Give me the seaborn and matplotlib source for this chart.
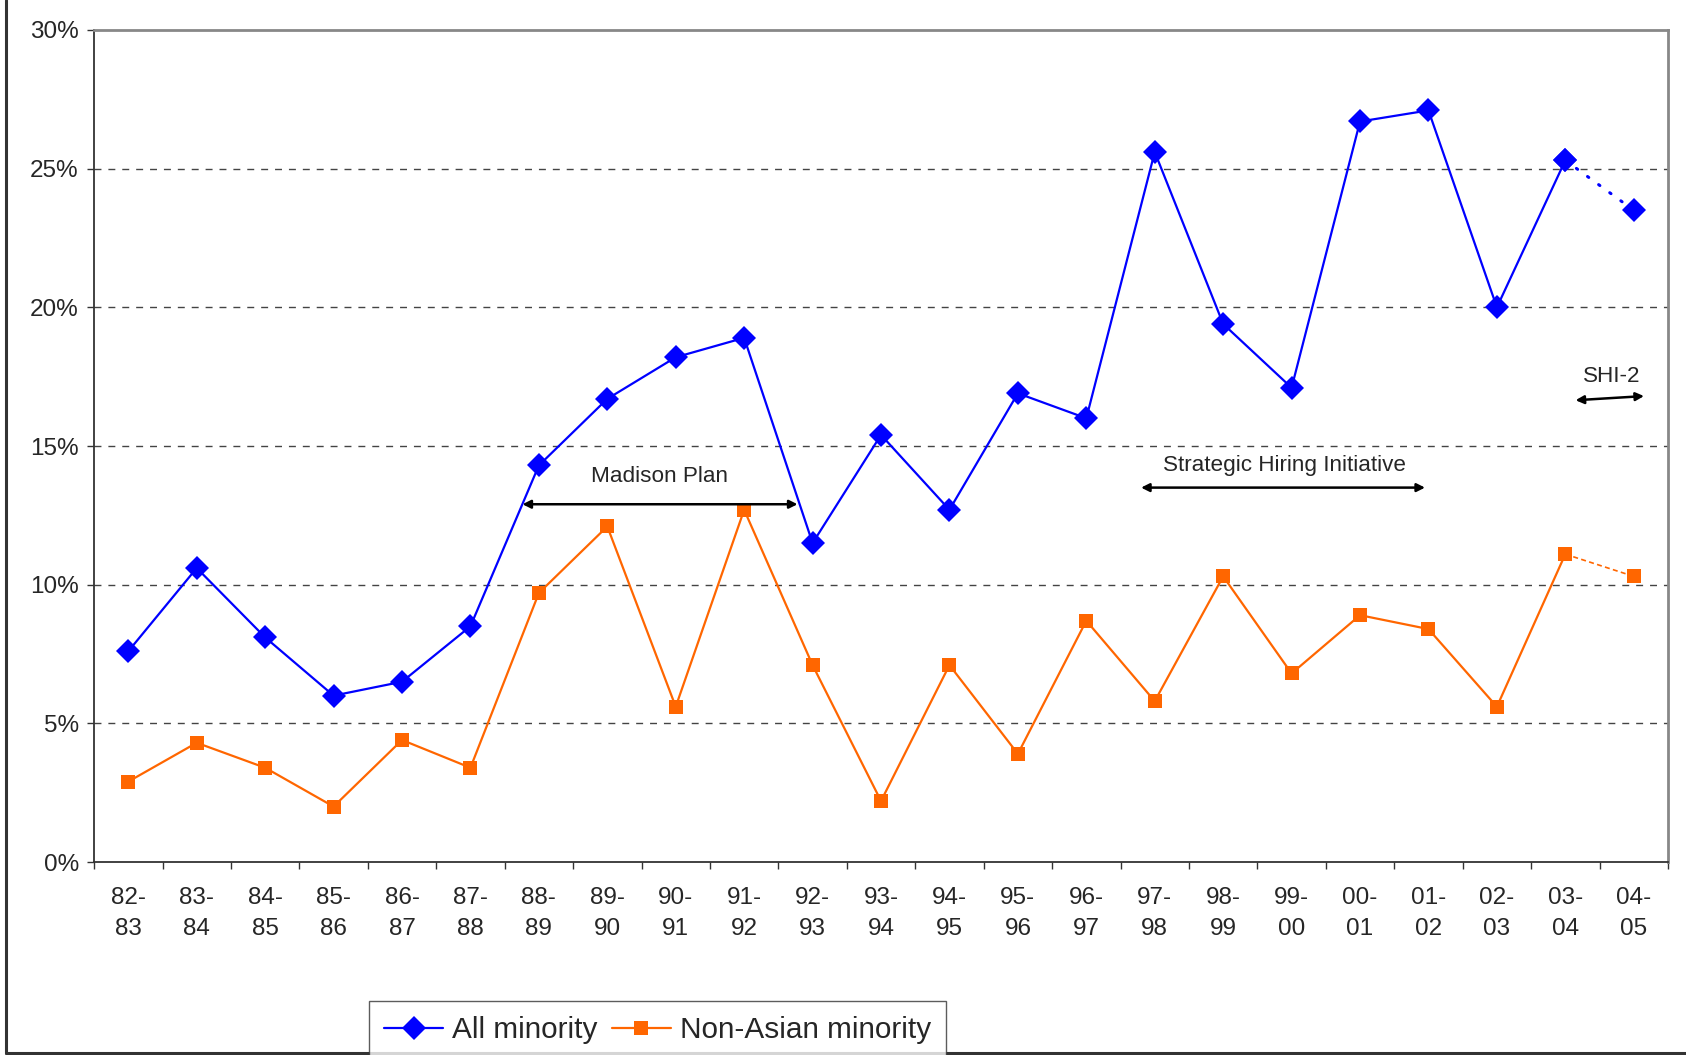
import numpy as np
import pandas as pd
import seaborn as sns
import matplotlib.pyplot as plt
from matplotlib.lines import Line2D

years = ["82-\n83", "83-\n84", "84-\n85", "85-\n86", "86-\n87", "87-\n88", "88-\n89",
         "89-\n90", "90-\n91", "91-\n92", "92-\n93", "93-\n94", "94-\n95", "95-\n96",
         "96-\n97", "97-\n98", "98-\n99", "99-\n00", "00-\n01", "01-\n02", "02-\n03",
         "03-\n04", "04-\n05"]
all_minority = [7.6, 10.6, 8.1, 6.0, 6.5, 8.5, 14.3, 16.7, 18.2, 18.9, 11.5, 15.4, 12.7,
                16.9, 16.0, 25.6, 19.4, 17.1, 26.7, 27.1, 20.0, 25.3, 23.5]
non_asian = [2.9, 4.3, 3.4, 2.0, 4.4, 3.4, 9.7, 12.1, 5.6, 12.7, 7.1, 2.2, 7.1,
             3.9, 8.7, 5.8, 10.3, 6.8, 8.9, 8.4, 5.6, 11.1, 10.3]

pos = np.arange(len(years))
df = pd.DataFrame({"pos": pos, "all": all_minority, "nonasian": non_asian})
solid = df.iloc[:-1]
tail = df.iloc[-2:]

sns.set_style("white")
plt.rcParams["font.family"] = ["Liberation Sans", "DejaVu Sans"]

fig = plt.figure(figsize=(16.86, 10.55), dpi=100)
ax = fig.add_axes([0.0558, 0.1829, 0.9335, 0.7887])

blue = "#0000FF"
orange = "#FF6600"

sns.lineplot(data=solid, x="pos", y="all", ax=ax, color=blue, lw=1.6,
             marker="D", markersize=12, markeredgewidth=0)
sns.lineplot(data=solid, x="pos", y="nonasian", ax=ax, color=orange, lw=1.6,
             marker="s", markersize=10, markeredgewidth=0)
sns.lineplot(data=tail, x="pos", y="all", ax=ax, color=blue, lw=2.2,
             linestyle=(0, (0.5, 4)), dash_capstyle="round",
             marker="D", markersize=12, markeredgewidth=0)
sns.lineplot(data=tail, x="pos", y="nonasian", ax=ax, color=orange, lw=1.2,
             linestyle=(0, (3, 2)), marker="s", markersize=10, markeredgewidth=0)

ax.set_xlim(-0.5, len(years) - 0.5)
ax.set_ylim(0, 30)
ax.set_xlabel("")
ax.set_ylabel("")

# Excel-style category axis: ticks between categories, labels centred
ax.set_xticks(np.arange(-0.5, len(years), 1.0))
ax.set_xticklabels([])
ax.set_xticks(pos, minor=True)
ax.set_xticklabels(years, minor=True, fontsize=17.5, linespacing=1.55)
ax.tick_params(axis="x", which="major", direction="out", length=5, width=1,
               color="#333333", bottom=True)
ax.tick_params(axis="x", which="minor", length=0, pad=18)

ax.set_yticks(np.arange(0, 31, 5))
ax.set_yticklabels([f"{v}%" for v in range(0, 31, 5)], fontsize=17.5)
ax.tick_params(axis="y", direction="out", length=5, width=1, color="#333333",
               left=True, pad=6)

for v in range(5, 30, 5):
    ax.axhline(v, color="#444444", lw=1, linestyle=(0, (5, 5)), zorder=0)

for side in ["left", "bottom"]:
    ax.spines[side].set_color("#333333")
    ax.spines[side].set_linewidth(1.3)
for side in ["top", "right"]:
    ax.spines[side].set_color("#888888")
    ax.spines[side].set_linewidth(2)

arrow = dict(arrowstyle="<|-|>", color="black", lw=1.8, mutation_scale=12,
             shrinkA=0, shrinkB=0)
ax.annotate("", xy=(5.76, 12.9), xytext=(9.78, 12.9), arrowprops=arrow)
ax.text(7.77, 13.9, "Madison Plan", ha="center", va="center", fontsize=16.2)
ax.annotate("", xy=(14.8, 13.5), xytext=(18.95, 13.5), arrowprops=arrow)
ax.text(16.9, 14.3, "Strategic Hiring Initiative", ha="center", va="center", fontsize=16.2)
ax.annotate("", xy=(21.15, 16.65), xytext=(22.15, 16.8), arrowprops=arrow)
ax.text(21.68, 17.5, "SHI-2", ha="center", va="center", fontsize=16.2)

handles = [Line2D([], [], color=blue, lw=1.6, marker="D", markersize=12, markeredgewidth=0),
           Line2D([], [], color=orange, lw=1.6, marker="s", markersize=10, markeredgewidth=0)]
leg = fig.legend(handles, ["All minority", "Non-Asian minority"], loc="upper center",
                 bbox_to_anchor=(0.39, 0.051), ncol=2, fontsize=21.4, frameon=True,
                 fancybox=False, handlelength=2.0, columnspacing=0.47,
                 handletextpad=0.3, borderpad=0.5, borderaxespad=0)
leg.get_frame().set_edgecolor("#333333")
leg.get_frame().set_linewidth(1)

# outer chart-area border (left and bottom edges visible)
fig.add_artist(Line2D([0.0036, 0.0036], [0.002, 1.0], color="#333333", lw=2.2,
                      transform=fig.transFigure))
fig.add_artist(Line2D([0.0036, 1.0], [0.002, 0.002], color="#333333", lw=2.2,
                      transform=fig.transFigure))

fig.savefig("out.png", dpi=100)
